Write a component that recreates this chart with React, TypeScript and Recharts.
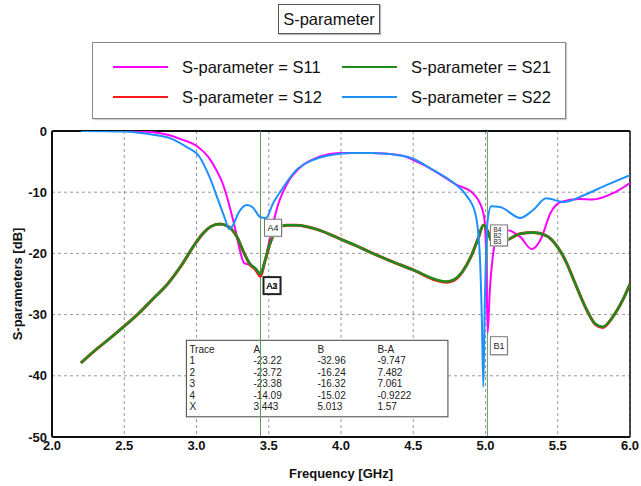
import { LineChart, Line, XAxis, YAxis, CartesianGrid, ReferenceLine, ReferenceDot, ReferenceArea } from 'recharts'

// [frequency GHz, dB]
const s11 = [
  [2.2, 0], [2.5, 0], [2.7, -0.2], [2.8, -0.6], [2.9, -1.4], [3.0, -2.4], [3.08, -4.2], [3.14, -6.5],
  [3.18, -8.5], [3.23, -12.4], [3.27, -16.2], [3.3, -19.5], [3.33, -21.6], [3.37, -21.9], [3.4, -22.3],
  [3.443, -23.22], [3.47, -21.6], [3.51, -17.3], [3.56, -12.4], [3.63, -8.5], [3.72, -5.9], [3.85, -4.2],
  [3.99, -3.6], [4.2, -3.6], [4.4, -3.9], [4.55, -5.3], [4.68, -7.0], [4.8, -8.8], [4.9, -9.9], [4.95, -11.3],
  [4.99, -14], [5.005, -21], [5.015, -32.96], [5.03, -26], [5.05, -20.6], [5.08, -17.3], [5.15, -16.2],
  [5.24, -17.3], [5.32, -19.3], [5.38, -17.8], [5.45, -13.4], [5.52, -11.6], [5.65, -11.1], [5.74, -11.2],
  [5.88, -10.2], [6.0, -8.5],
]

const s12 = [
  [2.2, -37.9], [2.3, -35.8], [2.4, -33.9], [2.5, -31.9], [2.6, -29.8], [2.7, -27.4], [2.8, -25], [2.9, -21.8],
  [2.98, -18.8], [3.05, -16.6], [3.1, -15.6], [3.16, -15.2], [3.22, -15.6], [3.28, -17.3], [3.33, -20], [3.37, -21.8],
  [3.41, -22.7], [3.443, -23.72], [3.47, -21.6], [3.51, -18.3], [3.56, -16], [3.62, -15.4], [3.69, -15.4],
  [3.85, -16.2], [3.99, -17.6], [4.13, -19], [4.22, -20], [4.35, -21.3], [4.5, -22.7], [4.66, -24.4],
  [4.73, -24.7], [4.78, -24.4], [4.84, -23], [4.9, -20.5], [4.95, -17.5], [4.985, -15.4], [5.013, -16.24],
  [5.05, -18.3], [5.1, -18.2], [5.15, -17.8], [5.24, -16.8], [5.33, -16.6], [5.42, -17.1], [5.5, -19],
  [5.56, -21.5], [5.61, -24.3], [5.7, -29.2], [5.76, -31.6], [5.81, -32.1], [5.88, -30.4], [5.95, -27.6], [6.0, -25],
]

const s21 = [
  [2.2, -37.9], [2.3, -35.8], [2.4, -33.9], [2.5, -31.9], [2.6, -29.8], [2.7, -27.4], [2.8, -25], [2.9, -21.8],
  [2.98, -18.8], [3.05, -16.6], [3.1, -15.6], [3.16, -15.2], [3.22, -15.6], [3.28, -17.3], [3.33, -20], [3.37, -21.7],
  [3.41, -22.5], [3.443, -23.38], [3.47, -21.5], [3.51, -18.3], [3.56, -16], [3.62, -15.4], [3.69, -15.4],
  [3.85, -16.2], [3.99, -17.6], [4.13, -19], [4.22, -20], [4.35, -21.3], [4.5, -22.7], [4.66, -24.3],
  [4.73, -24.6], [4.78, -24.3], [4.84, -23], [4.9, -20.5], [4.95, -17.5], [4.985, -15.4], [5.013, -16.32],
  [5.05, -18.3], [5.1, -18.2], [5.15, -17.8], [5.24, -16.8], [5.33, -16.6], [5.42, -17.1], [5.5, -19],
  [5.56, -21.5], [5.61, -24.3], [5.7, -29.2], [5.76, -31.5], [5.81, -32], [5.88, -30.4], [5.95, -27.6], [6.0, -25],
]

const s22 = [
  [2.2, 0], [2.5, -0.1], [2.6, -0.3], [2.7, -0.6], [2.82, -1.2], [2.93, -2.6], [3.02, -4.2], [3.09, -7.5],
  [3.15, -11.3], [3.2, -14.5], [3.225, -16], [3.25, -15.5], [3.29, -13.4], [3.35, -12.1], [3.39, -12.5],
  [3.443, -14.09], [3.48, -14.2], [3.53, -11.8], [3.6, -9.2], [3.69, -6.4], [3.81, -4.7], [3.94, -3.9],
  [4.08, -3.6], [4.22, -3.6], [4.46, -4.2], [4.64, -6.4], [4.78, -8.5], [4.87, -10.6], [4.93, -13.5],
  [4.96, -20], [4.975, -31], [4.985, -41.8], [4.995, -28], [5.005, -19], [5.013, -15.02], [5.04, -12.3],
  [5.1, -12.4], [5.24, -14.2], [5.33, -12.9], [5.42, -11], [5.54, -11.6], [5.68, -10.5], [5.84, -8.8], [6.0, -7.2],
]

const xTicks = [2, 2.5, 3, 3.5, 4, 4.5, 5, 5.5, 6]
const yTicks = [-50, -40, -30, -20, -10, 0]

const markerA = 3.443
const markerB = 5.013

const traceIds = ['Trace', '1', '2', '3', '4', 'X']
const colA = ['A', '-23.22', '-23.72', '-23.38', '-14.09', '3.443']
const colB = ['B', '-32.96', '-16.24', '-16.32', '-15.02', '5.013']
const colDiff = ['B-A', '-9.747', '7.482', '7.061', '-0.9222', '1.57']

const series = [
  { name: 'S11', data: s11, color: '#ff00ff', width: 2 },
  { name: 'S12', data: s12, color: '#ff1a1a', width: 3 },
  { name: 'S21', data: s21, color: '#1c8c1c', width: 2.5 },
  { name: 'S22', data: s22, color: '#1e90ff', width: 2 },
]

const toPoints = (arr: number[][]) => arr.map(([f, db]) => ({ f, db }))

const tickStyle = { fontFamily: '"Liberation Sans Narrow", "Liberation Sans", Arial', fontSize: 13, fontWeight: 700, fill: '#111' }

function Tag({ cx, cy, labels, dx, dy, h, bold, step = 0, size = 9 }: any) {
  const x = cx + dx
  const y = cy + dy
  return (
    <g>
      <rect x={x + 1} y={y + 1} width={17} height={h} fill="#ccc" />
      <rect x={x} y={y} width={17} height={h} fill="#fff" stroke={bold ? '#222' : '#777'} strokeWidth={bold ? 2 : 1} />
      {labels.map((l: string, i: number) => (
        <text key={l} x={x + 3} y={y + (step ? 7.5 : 12) + i * step} fontSize={size} fontFamily="'Liberation Sans', Arial" fill="#222">{l}</text>
      ))}
    </g>
  )
}

function MarkerTable({ x, y, width, height }: any) {
  const cols = [traceIds, colA, colB, colDiff]
  const offs = [3, 67, 131, 191]
  return (
    <g>
      <rect x={x} y={y} width={width} height={height} fill="#fff" stroke="#444" strokeWidth={1} />
      {cols.map((col, ci) =>
        col.map((v, ri) => (
          <text key={`${ci}-${ri}`} x={x + offs[ci]} y={y + 12.5 + ri * 11.5} fontSize={10}
            fontFamily="'Liberation Sans', Arial" fill="#222">{v}</text>
        ))
      )}
    </g>
  )
}

export default function App() {
  return (
    <div style={{ position: 'absolute', left: 0, top: 0, width: 641, height: 486, background: '#fff', fontFamily: '"Liberation Sans", Arial, sans-serif' }}>
      <div style={{ position: 'absolute', left: 278, top: 4, width: 100, height: 28, border: '1px solid #555', boxShadow: '1px 1px 1px #bbb', fontSize: 16.5, lineHeight: '28px', textAlign: 'center', color: '#111' }}>
        S-parameter
      </div>
      <div style={{ position: 'absolute', left: 92, top: 42, width: 472, height: 75, border: '1px solid #888', boxShadow: '1px 1px 1px #ccc' }}>
        {[['S11', 'S21'], ['S12', 'S22']].map((row, ri) =>
          row.map((name, ci) => {
            const s = series.find((q) => q.name === name)!
            return (
              <div key={name} style={{ position: 'absolute', left: ci === 0 ? 20 : 249, top: ri === 0 ? 14 : 44, height: 20, display: 'flex', alignItems: 'center' }}>
                <div style={{ width: 55, height: 2.5, background: s.color }} />
                <span style={{ marginLeft: 14, fontSize: 16.5, color: '#111' }}>S-parameter = {name}</span>
              </div>
            )
          })
        )}
      </div>
      <div style={{ position: 'absolute', left: 0, top: 0 }}>
        <LineChart width={641} height={486} margin={{ top: 131, right: 11, bottom: 0, left: 0 }}>
          <CartesianGrid stroke="#999" strokeDasharray="3 3" />
          <XAxis dataKey="f" type="number" domain={[2, 6]} ticks={xTicks} allowDataOverflow
            tickFormatter={(v: number) => v.toFixed(1)} height={49} tickSize={3} tickMargin={1} tickLine={false}
            axisLine={{ stroke: '#111', strokeWidth: 2 }} tick={tickStyle}
            label={{ value: 'Frequency [GHz]', position: 'insideBottom', offset: 8, style: { ...tickStyle, fontSize: 13 } }} />
          <YAxis dataKey="db" type="number" domain={[-50, 0]} ticks={yTicks} allowDataOverflow width={52}
            tickSize={3} tickMargin={2} tickLine={false} axisLine={{ stroke: '#111', strokeWidth: 2 }} tick={tickStyle}
            label={{ value: 'S-parameters [dB]', angle: -90, position: 'insideLeft', offset: 17, style: { ...tickStyle, textAnchor: 'middle' } }} />
          <ReferenceLine y={0} stroke="#111" strokeWidth={2} />
          <ReferenceLine x={6} stroke="#111" strokeWidth={1.5} />
          <ReferenceArea x1={2.93} x2={4.74} y1={-34.2} y2={-46.7} shape={(p: any) => <MarkerTable {...p} />} />
          <ReferenceLine x={markerA} stroke="#5e9a5e" strokeWidth={1} />
          <ReferenceLine x={markerB} stroke="#5e9a5e" strokeWidth={1} />
          {series.map((s) => (
            <Line key={s.name} data={toPoints(s.data)} dataKey="db" name={s.name} type="monotone" stroke={s.color}
              strokeWidth={s.width} dot={false} isAnimationActive={false} />
          ))}
          <ReferenceDot x={markerA} y={-14.09} r={0}
            shape={(p: any) => <Tag cx={p.cx} cy={p.cy} dx={4} dy={2} h={17} labels={['A4']} />} />
          <ReferenceDot x={markerA} y={-23.22} r={0}
            shape={(p: any) => <Tag cx={p.cx} cy={p.cy} dx={3} dy={4} h={17} bold labels={['A1', 'A2', 'A3']} />} />
          <ReferenceDot x={markerB} y={-15.02} r={0}
            shape={(p: any) => <Tag cx={p.cx} cy={p.cy} dx={3} dy={2} h={21} step={6} size={6.5} labels={['B4', 'B2', 'B3']} />} />
          <ReferenceDot x={markerB} y={-32.96} r={0}
            shape={(p: any) => <Tag cx={p.cx} cy={p.cy} dx={3} dy={4} h={18} labels={['B1']} />} />
        </LineChart>
      </div>
    </div>
  )
}
